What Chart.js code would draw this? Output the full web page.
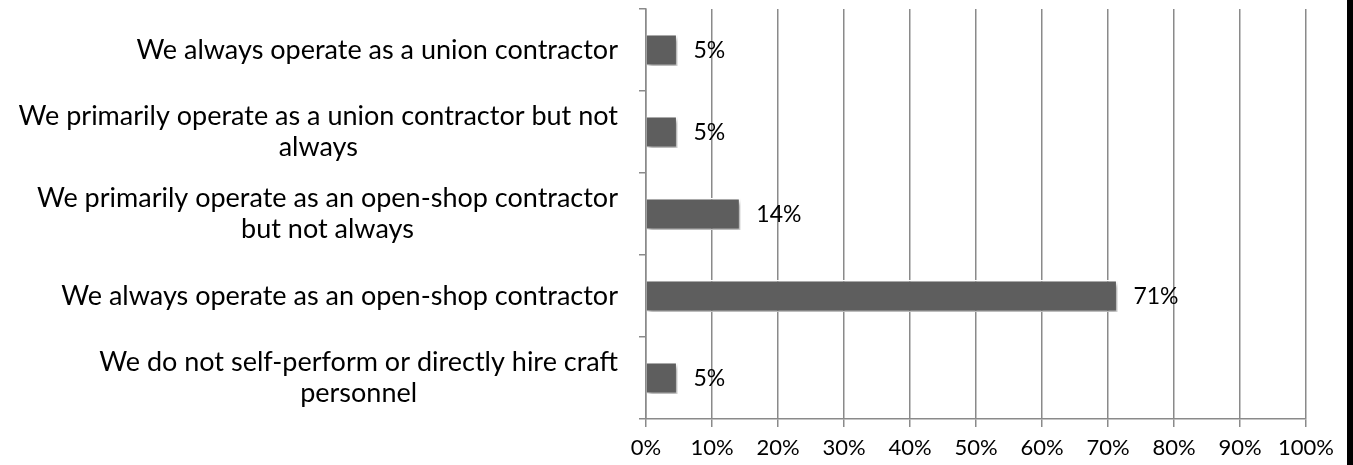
<!DOCTYPE html>
<html>
<head>
<meta charset="utf-8">
<script src="https://cdn.jsdelivr.net/npm/chart.js@4"></script>
<style>
  html, body { margin: 0; padding: 0; background: #fff; }
  #wrap { position: relative; width: 1353px; height: 465px; }
  #edge { position: absolute; top: 0; right: 0; width: 6px; height: 465px; background: #000; }
</style>
</head>
<body>
<div id="wrap">
  <canvas id="chart" width="1353" height="465"></canvas>
  <div id="edge"></div>
</div>
<script>
// =============================
// DATA
// =============================
const categories = [
  ["We always operate as a union contractor"],
  ["We primarily operate as a union contractor but not", "always"],
  ["We primarily operate as an open-shop contractor", "but not always"],
  ["We always operate as an open-shop contractor"],
  ["We do not self-perform or directly hire craft", "personnel"]
];
const shares = [4.76, 4.76, 14.29, 71.43, 4.76];
const xTicks = [0, 10, 20, 30, 40, 50, 60, 70, 80, 90, 100];

const FONT = "Lato";
const GRID = "#8a8a8a";

// sombra de las barras
const barShadow = {
  id: "barShadow",
  beforeDatasetDraw(chart) {
    const ctx = chart.ctx;
    ctx.save();
    ctx.shadowColor = "rgba(0,0,0,0.35)";
    ctx.shadowBlur = 4;
    ctx.shadowOffsetX = 2;
    ctx.shadowOffsetY = 3;
  },
  afterDatasetDraw(chart) {
    chart.ctx.restore();
  }
};

// etiquetas de categoría: líneas centradas en el bloque, bloque alineado a la derecha
const categoryLabels = {
  id: "categoryLabels",
  afterDraw(chart) {
    const ctx = chart.ctx;
    const yScale = chart.scales.y;
    const right = yScale.right - 28;
    const lineH = 31;
    ctx.save();
    ctx.font = `27px ${FONT}`;
    ctx.fillStyle = "#000";
    ctx.textAlign = "center";
    ctx.textBaseline = "middle";
    categories.forEach((lines, i) => {
      const y = yScale.getPixelForTick(i);
      const w = Math.max(...lines.map(l => ctx.measureText(l).width));
      const cx = right - w / 2;
      const y0 = y - (lines.length - 1) * lineH / 2;
      lines.forEach((l, j) => ctx.fillText(l, cx, y0 + j * lineH));
    });
    ctx.restore();
  }
};

// valores a la derecha de cada barra
const valueLabels = {
  id: "valueLabels",
  afterDatasetsDraw(chart) {
    const ctx = chart.ctx;
    const meta = chart.getDatasetMeta(0);
    ctx.save();
    ctx.font = `23px ${FONT}`;
    ctx.fillStyle = "#000";
    ctx.textAlign = "left";
    ctx.textBaseline = "middle";
    meta.data.forEach((bar, i) => {
      ctx.fillText(Math.round(shares[i]) + "%", bar.x + 16, bar.y + 1);
    });
    ctx.restore();
  }
};

new Chart(document.getElementById("chart").getContext("2d"), {
  type: "bar",
  data: {
    labels: categories,
    datasets: [{
      data: shares,
      backgroundColor: "#5e5e5e",
      borderColor: "#ffffff",
      borderWidth: 1.5,
      borderSkipped: "start",
      categoryPercentage: 1,
      barPercentage: 0.39
    }]
  },
  options: {
    indexAxis: "y",
    responsive: false,
    animation: false,
    layout: { padding: { top: 9, right: 47, left: 0, bottom: 0 } },
    plugins: {
      legend: { display: false },
      tooltip: { enabled: false }
    },
    scales: {
      x: {
        min: 0,
        max: 100,
        afterBuildTicks(scale) {
          scale.ticks = xTicks.map(v => ({ value: v }));
        },
        afterFit(scale) { scale.height = 46; },
        border: { color: GRID, width: 1.5 },
        grid: { color: GRID, lineWidth: 1.5, tickLength: 8 },
        ticks: {
          color: "#000",
          font: { family: FONT, size: 22 },
          padding: 8,
          maxRotation: 0,
          callback: v => v + "%"
        }
      },
      y: {
        afterFit(scale) { scale.width = 646; },
        border: { color: GRID, width: 1.5 },
        grid: { color: GRID, lineWidth: 1.5, tickLength: 7, drawOnChartArea: false, offset: true },
        ticks: { display: false }
      }
    }
  },
  plugins: [barShadow, valueLabels, categoryLabels]
});
</script>
</body>
</html>
